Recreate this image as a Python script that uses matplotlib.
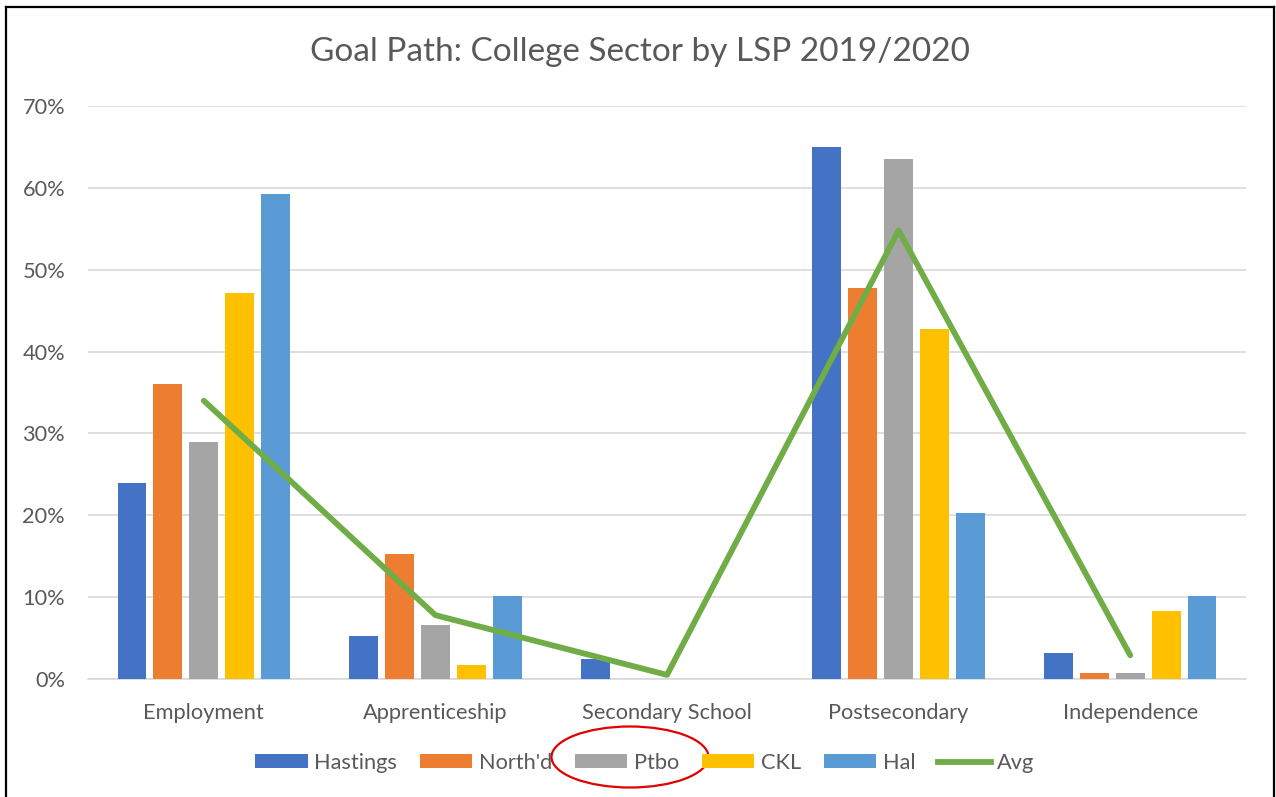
import matplotlib
matplotlib.use("Agg")
import matplotlib.pyplot as plt
import numpy as np
from matplotlib.patches import Ellipse, Patch
from matplotlib.lines import Line2D

categories = ["Employment", "Apprenticeship", "Secondary School", "Postsecondary", "Independence"]
series_names = ["Hastings", "North'd", "Ptbo", "CKL", "Hal"]
hastings = [24.0, 5.3, 2.4, 65.0, 3.2]
northd = [36.0, 15.3, 0.0, 47.8, 0.7]
ptbo = [29.0, 6.6, 0.0, 63.5, 0.7]
ckl = [47.2, 1.7, 0.0, 42.8, 8.3]
hal = [59.2, 10.1, 0.0, 20.3, 10.1]
avg = [34.0, 7.8, 0.5, 54.8, 2.9]
yticks = [0, 10, 20, 30, 40, 50, 60, 70]
ytick_labels = ["0%", "10%", "20%", "30%", "40%", "50%", "60%", "70%"]

colors = ["#4472C4", "#ED7D31", "#A5A5A5", "#FFC000", "#5B9BD5"]
avg_color = "#70AD47"
txt = "#595959"

plt.rcParams['font.family'] = ['Lato', 'DejaVu Sans']

fig = plt.figure(figsize=(12.76, 7.97), dpi=100)
W, H = 1276, 797
ax = fig.add_axes([88 / W, 1 - 679 / H, (1246 - 88) / W, (679 - 106) / H])

x = np.arange(len(categories))
bw = 0.125
step = 0.155
all_series = [hastings, northd, ptbo, ckl, hal]
for i, (vals, c, name) in enumerate(zip(all_series, colors, series_names)):
    ax.bar(x + (i - 2) * step, vals, width=bw, color=c, label=name, zorder=3)

ax.plot(x, avg, color=avg_color, lw=4.2, solid_capstyle='round', zorder=4, label="Avg")

ax.set_xlim(-0.5, 4.5)
ax.set_ylim(0, 70)
ax.set_yticks(yticks)
ax.set_yticklabels(ytick_labels)
ax.set_xticks(x)
ax.set_xticklabels(categories)
ax.grid(axis='y', color="#D9D9D9", lw=1.2, zorder=0)
ax.set_axisbelow(True)
for s in ["top", "right", "left"]:
    ax.spines[s].set_visible(False)
ax.spines["bottom"].set_color("#D9D9D9")
ax.spines["bottom"].set_linewidth(1.2)
ax.tick_params(axis='both', length=0, labelsize=15.7, colors=txt)
ax.tick_params(axis='x', pad=17)
ax.tick_params(axis='y', pad=16.5)

fig.text(640 / W, 1 - 52 / H, "Goal Path: College Sector by LSP 2019/2020",
         ha='center', va='center', fontsize=24, color=txt)

handles = [Patch(facecolor=c, edgecolor='none') for c in colors]
handles.append(Line2D([0], [0], color=avg_color, lw=4.2))
labels = series_names + ["Avg"]
leg = fig.legend(handles, labels, loc='center', bbox_to_anchor=(645 / W, 1 - 763 / H),
                 ncol=6, frameon=False, fontsize=15.7, handlelength=2.4, handleheight=0.6,
                 handletextpad=0.3, columnspacing=1.05, labelcolor=txt)

# red ellipse annotation
fig.patches.append(Ellipse((630 / W, 1 - 757 / H), 157 / W, 61 / H,
                           transform=fig.transFigure, fill=False, edgecolor="#E00000", lw=1.6))

# chart border (left, top, right)
fig.add_artist(Line2D([6 / W, 6 / W], [0, 1 - 7 / H], color='black', lw=1.6, transform=fig.transFigure))
fig.add_artist(Line2D([6 / W, 1274 / W], [1 - 7 / H, 1 - 7 / H], color='black', lw=1.6, transform=fig.transFigure))
fig.add_artist(Line2D([1274 / W, 1274 / W], [0, 1 - 7 / H], color='black', lw=1.6, transform=fig.transFigure))

fig.savefig("out.png", dpi=100)
